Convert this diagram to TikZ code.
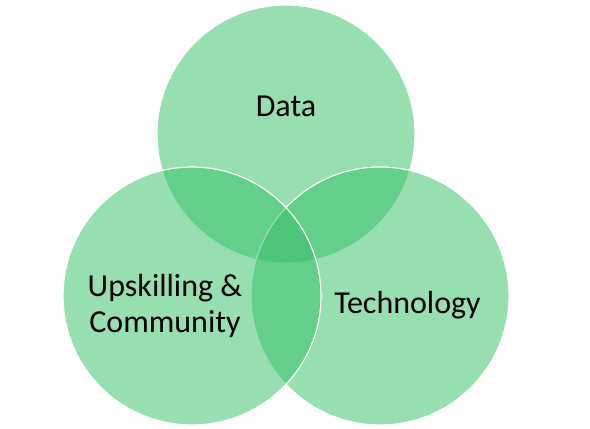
\documentclass[tikz,border=0pt]{standalone}
\usepackage{fontspec}
\setmainfont{Carlito}
\definecolor{venngreen}{RGB}{55,191,105}
\begin{document}
\begin{tikzpicture}[x=1pt,y=1pt,
  venn/.style={fill=venngreen,fill opacity=0.52,draw=white,draw opacity=1,line width=1.2pt},
  lbl/.style={font=\fontsize{32}{36}\selectfont,text=black,inner sep=0pt,align=center}]
\useasboundingbox (0,0) rectangle (590,429);
\draw[venn] (286,295) circle[radius=129];
\draw[venn] (380,133) circle[radius=129];
\draw[venn] (192,133) circle[radius=129];
\node[lbl,anchor=base] (data) at (286,312) {Data};
\node[lbl,anchor=base] (tech) at (407.5,115) {Technology};
\node[lbl,anchor=base] (ups) at (165,96) {Upskilling \&\\Community};
\end{tikzpicture}
\end{document}
